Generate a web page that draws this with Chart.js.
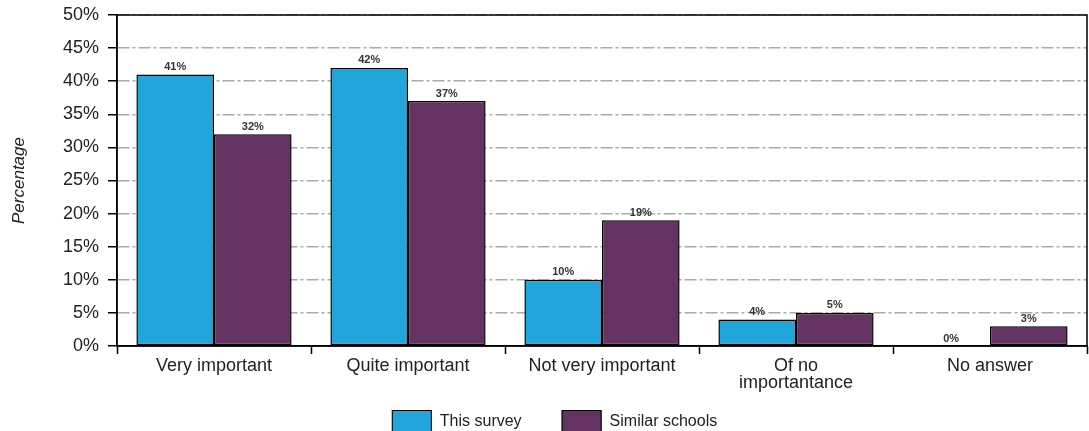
<!DOCTYPE html>
<html>
<head>
<meta charset="utf-8">
<script src="https://cdn.jsdelivr.net/npm/chart.js@4/dist/chart.umd.min.js"></script>
<style>
  html, body { margin: 0; padding: 0; background: #fff; }
  #wrap { width: 1089px; height: 431px; position: relative; }
</style>
</head>
<body>
<div id="wrap"><canvas id="chart"></canvas></div>
<script>
// Survey answers vs similar schools
const categories = ['Very important', 'Quite important', 'Not very important', ['Of no', 'importantance'], 'No answer'];
const thisSurvey = [41, 42, 10, 4, 0];
const similarSchools = [32, 37, 19, 5, 3];
const seriesNames = ['This survey', 'Similar schools'];
const seriesColors = ['#22a5da', '#653264'];
const yMax = 50;
const yStep = 5;

const FONT = '"Liberation Sans", Arial, sans-serif';

// frame round the plot area (top and right edges)
const framePlugin = {
    id: 'frame',
    afterDraw(chart) {
        const { ctx, chartArea } = chart;
        ctx.save();
        ctx.strokeStyle = '#000';
        ctx.lineWidth = 1.5;
        ctx.strokeRect(chartArea.left, chartArea.top, chartArea.right - chartArea.left, chartArea.bottom - chartArea.top);
        ctx.restore();
    },
};

// small percentage labels above each bar
const valueLabels = {
    id: 'valueLabels',
    afterDatasetsDraw(chart) {
        const { ctx } = chart;
        ctx.save();
        ctx.font = `bold 11px ${FONT}`;
        ctx.fillStyle = '#333';
        ctx.textAlign = 'center';
        ctx.textBaseline = 'bottom';
        chart.data.datasets.forEach((ds, i) => {
            chart.getDatasetMeta(i).data.forEach((bar, j) => {
                ctx.fillText(`${ds.data[j]}%`, bar.x, bar.y - 2);
            });
        });
        ctx.restore();
    },
};

// legend drawn below the axis, partly cut by the canvas edge like the original
const bottomLegend = {
    id: 'bottomLegend',
    afterDraw(chart) {
        const { ctx } = chart;
        const boxW = 40;
        const boxH = 22;
        const gap = 8;
        const itemGap = 40;
        const top = 410;
        ctx.save();
        ctx.font = `16px ${FONT}`;
        const widths = chart.data.datasets.map((ds) => boxW + gap + ctx.measureText(ds.label).width);
        const total = widths.reduce((a, b) => a + b, 0) + itemGap * (widths.length - 1);
        let x = chart.width / 2 + 10 - total / 2;
        chart.data.datasets.forEach((ds, i) => {
            ctx.fillStyle = ds.backgroundColor;
            ctx.fillRect(x, top, boxW, boxH);
            ctx.strokeStyle = '#000';
            ctx.lineWidth = 1;
            ctx.strokeRect(x + 0.5, top + 0.5, boxW - 1, boxH - 1);
            ctx.fillStyle = '#222';
            ctx.textAlign = 'left';
            ctx.textBaseline = 'middle';
            ctx.fillText(ds.label, x + boxW + gap, top + 12);
            x += widths[i] + itemGap;
        });
        ctx.restore();
    },
};

new Chart(document.getElementById('chart'), {
    type: 'bar',
    data: {
        labels: categories,
        datasets: [
            {
                label: seriesNames[0],
                data: thisSurvey,
                backgroundColor: seriesColors[0],
                borderColor: '#000',
                borderWidth: 1.5,
                borderSkipped: false,
                categoryPercentage: 0.8,
                barPercentage: 1.0,
            },
            {
                label: seriesNames[1],
                data: similarSchools,
                backgroundColor: seriesColors[1],
                borderColor: '#000',
                borderWidth: 1.5,
                borderSkipped: false,
                categoryPercentage: 0.8,
                barPercentage: 1.0,
            },
        ],
    },
    options: {
        responsive: true,
        maintainAspectRatio: false,
        animation: false,
        layout: { padding: { top: 15, right: 2, left: 0, bottom: 23 } },
        plugins: {
            tooltip: { enabled: false },
            legend: { display: false },
        },
        scales: {
            x: {
                grid: {
                    drawOnChartArea: false,
                    drawTicks: true,
                    tickLength: 8,
                    tickColor: '#000',
                    tickWidth: 1.5,
                },
                border: { color: '#000', width: 1.5 },
                ticks: {
                    color: '#222',
                    font: { family: FONT, size: 18, lineHeight: 0.95 },
                    padding: 3,
                    maxRotation: 0,
                },
                afterFit(scale) { scale.height = 62; },
            },
            y: {
                min: 0,
                max: yMax,
                ticks: {
                    stepSize: yStep,
                    color: '#222',
                    font: { family: FONT, size: 18, lineHeight: 1.0 },
                    padding: 9,
                    callback: (v) => `${v}%`,
                },
                grid: {
                    color: '#aaa',
                    lineWidth: 1.5,
                    tickLength: 9,
                    tickColor: '#000',
                    tickWidth: 1.5,
                    tickBorderDash: [],
                },
                border: { color: '#000', width: 1.5, dash: [12, 3, 3, 3] },
                title: {
                    display: true,
                    text: 'Percentage',
                    color: '#222',
                    font: { family: FONT, size: 17, style: 'italic' },
                    padding: { top: 9, bottom: 0 },
                },
                afterFit(scale) {
                    scale.width = 117;
                    scale.paddingTop = 0;
                    scale.paddingBottom = 0;
                },
            },
        },
    },
    plugins: [framePlugin, valueLabels, bottomLegend],
});
</script>
</body>
</html>
